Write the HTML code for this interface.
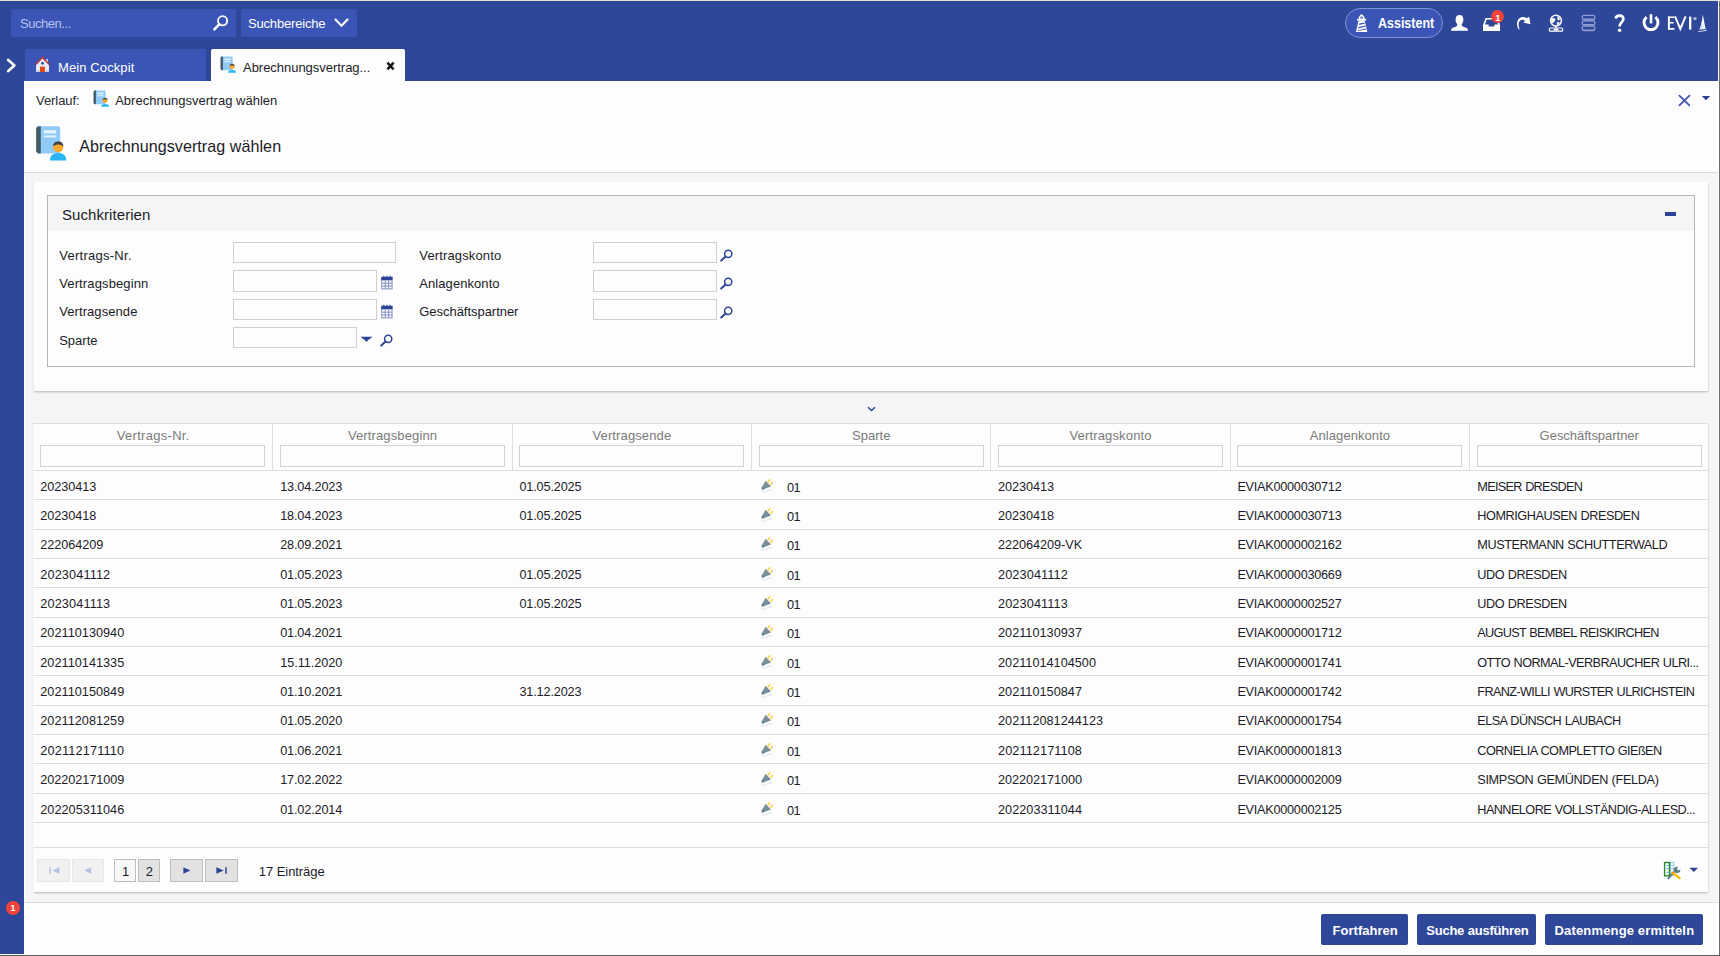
<!DOCTYPE html>
<html lang="de"><head><meta charset="utf-8"><title>Abrechnungsvertrag wählen</title>
<style>
html,body{margin:0;padding:0}
body{width:1720px;height:956px;overflow:hidden;position:relative;background:#fdfdfd;font-family:"Liberation Sans",sans-serif;font-size:13px;color:#1c1c28}
.a{position:absolute;box-sizing:border-box}
.t{position:absolute;white-space:pre;font-family:"Liberation Sans",sans-serif}
svg{position:absolute;overflow:visible}
.hdr{background:#2e4799}
.inp{position:absolute;box-sizing:border-box;border:1px solid #cfcfcf;background:#fdfdfd}
.hl{position:absolute;height:1px;background:#dedede}
.vl{position:absolute;width:1px;background:#dedede}
.btn{position:absolute;box-sizing:border-box;background:#2e4799;border-radius:2px}
.pg{position:absolute;box-sizing:border-box;border:1px solid #bdbdbd;background:#e2e2e2}
.pg.dis{border-color:#e6e6e6;background:#f1f1f1}

</style></head>
<body>
<div class="a" style="left:0;top:0;width:1720px;height:1px;background:#e4e0d8"></div>
<div class="a hdr" style="left:0;top:1px;width:1718px;height:80px"></div>
<div class="a hdr" style="left:0;top:81px;width:24px;height:873px"></div>
<div class="a" style="left:1719px;top:1px;width:1px;height:955px;background:#6e6e6e"></div>
<div class="a" style="left:0;top:955px;width:1720px;height:1px;background:#5a5a5a"></div>
<div class="a" style="left:11px;top:9px;width:225px;height:28px;background:#3a55b5;border-radius:2px"></div>
<span class="t " style="left:20px;top:15px;font-size:13px;line-height:17px;color:#b7c2ea;letter-spacing:-0.46px;">Suchen...</span>
<svg style="left:212px;top:14px" width="18" height="18" viewBox="0 0 18 18"><circle cx="10.6" cy="6.8" r="4.6" fill="none" stroke="#fff" stroke-width="1.8"/><path d="M7.4 10.2 L2.4 15.4" stroke="#fff" stroke-width="2.6" stroke-linecap="round"/></svg>
<div class="a" style="left:241px;top:9px;width:116px;height:28px;background:#3a55b5;border-radius:2px"></div>
<span class="t " style="left:248px;top:15px;font-size:13px;line-height:17px;color:#ffffff;letter-spacing:-0.18px;">Suchbereiche</span>
<svg style="left:334px;top:18px" width="15" height="10" viewBox="0 0 15 10"><path d="M1.5 1.6 L7.5 7.8 L13.5 1.6" fill="none" stroke="#fff" stroke-width="2.2" stroke-linecap="round" stroke-linejoin="round"/></svg>
<svg style="left:6px;top:58px" width="11" height="15" viewBox="0 0 11 15"><path d="M2 1.8 L8.4 7.5 L2 13.2" fill="none" stroke="#fff" stroke-width="2.5" stroke-linecap="round" stroke-linejoin="round"/></svg>
<div class="a" style="left:25px;top:49px;width:181px;height:32px;background:#3a55b5;border-radius:2px 2px 0 0"></div>
<svg style="left:35px;top:56px" width="15" height="17" viewBox="0 0 15 17"><path d="M1 8.2 L7.5 1.6 L14 8.2 V16 H1 Z" fill="#ebebf5"/><rect x="1" y="14.3" width="13" height="1.7" fill="#c9cbe9"/><rect x="11.1" y="3.1" width="1.8" height="3.2" fill="#e1e3f3"/><path d="M0.7 8.4 L7.5 1.4 L14.3 8.4" fill="none" stroke="#b23b3b" stroke-width="1.5"/><rect x="5" y="10.7" width="4.9" height="5.3" fill="#e04a10"/><circle cx="7.5" cy="7.3" r="1.4" fill="#1d5c9c"/></svg>
<span class="t " style="left:58px;top:59px;font-size:13px;line-height:17px;color:#ffffff;letter-spacing:0.12px;word-spacing:-0.12px;">Mein Cockpit</span>
<div class="a" style="left:211px;top:49px;width:194px;height:33px;background:#fdfdfd;border-radius:2px 2px 0 0"></div>
<svg style="left:220px;top:56px" width="16" height="18" viewBox="0 0 16 18"><g><path d="M2.2 0.6 H11.4 Q12.6 0.6 12.6 1.8 V13.2 Q12.6 14.2 11.4 14.2 H2.2 Q0.6 14.2 0.6 12.8 V2 Q0.6 0.6 2.2 0.6 Z" fill="#90caf9"/><path d="M2.2 0.6 H2.9 V14.2 H2.2 Q0.6 14.2 0.6 12.8 V2 Q0.6 0.6 2.2 0.6 Z" fill="#455a64"/><rect x="4.4" y="2.6" width="6.2" height="1.6" fill="#e3f2fd"/><rect x="4.4" y="5.2" width="6.2" height="1" fill="#e3f2fd"/><path d="M8.0 16.8 Q8.0 13.9 12.1 13.9 Q16.2 13.9 16.2 16.8 Z" fill="#29b6f6"/><circle cx="12.1" cy="10.6" r="2.4" fill="#ffa726"/><path d="M9.6 10.299999999999999 Q9.6 7.799999999999999 12.1 7.799999999999999 Q14.6 7.799999999999999 14.6 10.299999999999999 Q13.299999999999999 9.2 12.1 9.299999999999999 Q10.7 9.2 9.6 10.299999999999999 Z" fill="#424242"/></g></svg>
<span class="t " style="left:243px;top:59px;font-size:13px;line-height:17px;color:#1c1c28;letter-spacing:-0.03px;">Abrechnungsvertrag...</span>
<svg style="left:386px;top:61px" width="9" height="10" viewBox="0 0 9 10"><path d="M1.4 1.6 L7.6 8.4 M7.6 1.6 L1.4 8.4" stroke="#111" stroke-width="2.4"/></svg>
<div class="a" style="left:1345px;top:8px;width:98px;height:30px;background:#3a55b5;border:1px solid #7f93d6;border-radius:15px"></div>
<svg style="left:1355px;top:13px" width="13" height="20" viewBox="0 0 13 20"><path d="M4.4 3.5 Q6.6 -1.2 8.8 3.5 Z" fill="#fff"/><rect x="3.7" y="3.5" width="5.8" height="2.6" fill="#fff"/><rect x="5.2" y="4.1" width="2.8" height="1.5" fill="#5b72c4"/><rect x="2" y="5.9" width="9.2" height="1.7" fill="#fff"/><path d="M3.6 7.6 H9.6 L12.3 18.9 H0.9 Z" fill="#fff"/><g fill="#3a55b5"><path d="M4.3 10.6 L9.4 9.4 L9.7 10.7 L4 12 Z"/><path d="M3.5 14 L10.3 12.4 L10.6 13.8 L3.1 15.5 Z"/><path d="M2.8 17.2 L11 15.5 L11.2 16.6 L2.6 18.1 Z"/></g></svg>
<span class="t " style="left:1378px;top:14px;font-size:14.4px;line-height:19px;color:#ffffff;font-weight:700;transform:scaleX(0.8675);transform-origin:0 50%;">Assistent</span>
<svg style="left:1450px;top:14px" width="19" height="18" viewBox="0 0 19 18"><path d="M9.5 1 C12.2 1 13.4 3 13.4 5.6 C13.4 8 12.4 9.6 11.6 10.4 C11.6 12 13 12.6 15.4 13.6 C17.4 14.4 18 15.2 18 16.8 H1 C1 15.2 1.6 14.4 3.6 13.6 C6 12.6 7.4 12 7.4 10.4 C6.6 9.6 5.6 8 5.6 5.6 C5.6 3 6.8 1 9.5 1 Z" fill="#fff"/></svg>
<svg style="left:1482px;top:17px" width="19" height="15" viewBox="0 0 19 15"><path d="M3.6 1 H15.4 L18 8 V14 H1 V8 Z" fill="#fff"/><path d="M4.6 2.4 H14.4 L16 7.4 H12.4 V9.6 H6.6 V7.4 H3 Z" fill="#2e4799"/></svg>
<div class="a" style="left:1491px;top:10px;width:13.4px;height:13.4px;border-radius:50%;background:#f2433a"></div>
<span class="t " style="left:1495.3px;top:12px;font-size:9.5px;line-height:12px;color:#ffffff;font-weight:700;">1</span>
<svg style="left:1516px;top:15px" width="15" height="15" viewBox="0 0 15 15"><path d="M2.9 14.6 C0 10.6 0.2 4.4 4.8 2.4 C7.2 1.5 9.4 2.2 10.6 3.2 L13.2 1.8 L14.5 9.2 L7.2 7.5 L9.2 5.7 C7.6 4.5 5.8 4.4 4.6 5.2 C2 7 2.3 10.8 3.6 14.2 Z" fill="#fff"/></svg>
<svg style="left:1548px;top:14px" width="16" height="18" viewBox="0 0 16 18"><circle cx="8" cy="6.6" r="5.4" fill="none" stroke="#fff" stroke-width="1.5"/><path d="M3.4 4.6 Q6 3 7.6 5.4 Q6.4 8.4 4 9.6 Q2.8 7.2 3.4 4.6 Z M9.4 2 Q11.6 3.4 12.4 5.2 L9.8 6.8 Q8.8 4.4 9.4 2 Z M8.6 8.6 L11.8 8 Q11.4 10.6 9.2 11.4 Z" fill="#fff"/><path d="M8 12 V14" stroke="#fff" stroke-width="1.4"/><rect x="1.4" y="14" width="13.2" height="3.2" rx="1" fill="none" stroke="#fff" stroke-width="1.2"/><rect x="5.6" y="14.6" width="4.8" height="2" fill="#fff"/></svg>
<svg style="left:1581px;top:14px" width="15" height="18" viewBox="0 0 15 18"><g fill="none" stroke="#8f9fd3" stroke-width="1.3"><rect x="1.2" y="1.4" width="12.6" height="4.4" rx="2"/><rect x="1.2" y="6.8" width="12.6" height="4.4" rx="2"/><rect x="1.2" y="12.2" width="12.6" height="4.4" rx="2"/></g><path d="M2.4 5.2 H12.6 M2.4 10.6 H12.6 M2.4 16 H12.6" stroke="#8f9fd3" stroke-width="1.2"/></svg>
<svg style="left:1613px;top:14px" width="13" height="19" viewBox="0 0 13 19"><path d="M2.6 4.6 C3 2.4 4.6 1.6 6.6 1.6 C9 1.6 10.4 3 10.4 5 C10.4 8 6.6 8.4 6.6 12.6" fill="none" stroke="#fff" stroke-width="2.6"/><circle cx="6.6" cy="16.2" r="1.7" fill="#fff"/></svg>
<svg style="left:1641px;top:13px" width="20" height="20" viewBox="0 0 20 20"><path d="M5.6 4.2 A7 7 0 1 0 14.4 4.2" fill="none" stroke="#fff" stroke-width="2.9"/><path d="M10 1.2 V10.4" stroke="#fff" stroke-width="2.6"/></svg>
<svg style="left:1667px;top:15px" width="30" height="16" viewBox="0 0 30 16"><g fill="none" stroke="#fff"><path d="M1.9 1.6 V14.6" stroke-width="2"/><path d="M1 2.3 H7.2 M1 7.8 H6.6 M1 13.9 H7.4" stroke-width="1.6"/><path d="M8 1.4 L13.3 14 L18.6 1.4" stroke-width="2" stroke-linejoin="miter"/><path d="M23.2 1.6 V14.6" stroke-width="2.3"/></g><circle cx="28" cy="3.6" r="1.7" fill="#aab6e2"/></svg>
<svg style="left:1697px;top:14px" width="11" height="19" viewBox="0 0 11 19"><path d="M5.8 0.6 L8.6 15 L2.8 15.4 Q5.2 8.8 5.8 0.6 Z" fill="#fff"/><path d="M5.2 5 Q4.6 11.4 2.2 15.4 L5.4 15.2 Z" fill="#cdd4ee"/><path d="M0.6 17.4 Q5 16.8 9.8 15.8 L9.5 16.8 Q5 17.8 1.2 18 Z" fill="#fff"/></svg>
<span class="t " style="left:36px;top:92px;font-size:13px;line-height:17px;color:#2a2a33;letter-spacing:-0.06px;">Verlauf:</span>
<svg style="left:93px;top:90px" width="16" height="18" viewBox="0 0 16 18"><g><path d="M2.2 0.6 H11.4 Q12.6 0.6 12.6 1.8 V13.2 Q12.6 14.2 11.4 14.2 H2.2 Q0.6 14.2 0.6 12.8 V2 Q0.6 0.6 2.2 0.6 Z" fill="#90caf9"/><path d="M2.2 0.6 H2.9 V14.2 H2.2 Q0.6 14.2 0.6 12.8 V2 Q0.6 0.6 2.2 0.6 Z" fill="#455a64"/><rect x="4.4" y="2.6" width="6.2" height="1.6" fill="#e3f2fd"/><rect x="4.4" y="5.2" width="6.2" height="1" fill="#e3f2fd"/><path d="M8.0 16.8 Q8.0 13.9 12.1 13.9 Q16.2 13.9 16.2 16.8 Z" fill="#29b6f6"/><circle cx="12.1" cy="10.6" r="2.4" fill="#ffa726"/><path d="M9.6 10.299999999999999 Q9.6 7.799999999999999 12.1 7.799999999999999 Q14.6 7.799999999999999 14.6 10.299999999999999 Q13.299999999999999 9.2 12.1 9.299999999999999 Q10.7 9.2 9.6 10.299999999999999 Z" fill="#424242"/></g></svg>
<span class="t " style="left:115.2px;top:92px;font-size:13px;line-height:17px;color:#1c1c28;letter-spacing:0.01px;word-spacing:-0.01px;">Abrechnungsvertrag wählen</span>
<svg style="left:1678px;top:94px" width="13" height="13" viewBox="0 0 13 13"><path d="M1.4 1.6 L11.4 11.4 M11.4 1.6 L1.4 11.4" stroke="#3d50b6" stroke-width="1.7" stroke-linecap="round"/></svg>
<svg style="left:1701px;top:95px" width="10" height="6" viewBox="0 0 10 6"><path d="M0.8 1 H9.2 L5 5.2 Z" fill="#2b4396"/></svg>
<svg style="left:35px;top:125px" width="32" height="36" viewBox="0 0 16 18"><g><path d="M2.2 0.6 H11.4 Q12.6 0.6 12.6 1.8 V13.2 Q12.6 14.2 11.4 14.2 H2.2 Q0.6 14.2 0.6 12.8 V2 Q0.6 0.6 2.2 0.6 Z" fill="#90caf9"/><path d="M2.2 0.6 H2.9 V14.2 H2.2 Q0.6 14.2 0.6 12.8 V2 Q0.6 0.6 2.2 0.6 Z" fill="#455a64"/><rect x="4.4" y="2.6" width="6.2" height="1.6" fill="#e3f2fd"/><rect x="4.4" y="5.2" width="6.2" height="1" fill="#e3f2fd"/><path d="M7.4 17.8 Q7.4 14 11.6 14 Q15.7 14 15.7 17.8 Z" fill="#29b6f6"/><circle cx="11.6" cy="11.1" r="2.5" fill="#ffa726"/><path d="M9.0 10.799999999999999 Q9.0 8.2 11.6 8.2 Q14.2 8.2 14.2 10.799999999999999 Q12.799999999999999 9.7 11.6 9.799999999999999 Q10.2 9.7 9.0 10.799999999999999 Z" fill="#424242"/></g></svg>
<span class="t " style="left:79.3px;top:136px;font-size:16.1px;line-height:21px;color:#1c1c28;letter-spacing:0.06px;word-spacing:-0.06px;">Abrechnungsvertrag wählen</span>
<div class="hl" style="left:24px;top:172px;width:1694px;background:#dcdcdc"></div>
<div class="a" style="left:25px;top:173px;width:1693px;height:729px;background:#f5f5f5"></div>
<div class="a" style="left:33px;top:182px;width:1675px;height:209px;background:#fdfdfd;box-shadow:0 1.5px 2px -0.5px rgba(0,0,0,.26);border-left:1px solid #ececec"></div>
<div class="a" style="left:47px;top:195px;width:1648px;height:172px;border:1px solid #b6b6b6;background:#fdfdfd"></div>
<div class="a" style="left:48px;top:196px;width:1646px;height:35px;background:#f5f5f5"></div>
<span class="t " style="left:62px;top:205px;font-size:15px;line-height:20px;color:#1c1c28;letter-spacing:0.07px;">Suchkriterien</span>
<div class="a" style="left:1665px;top:211.5px;width:11px;height:4.5px;background:#2b4396"></div>
<span class="t " style="left:59.2px;top:247px;font-size:13px;line-height:17px;color:#1c1c28;letter-spacing:0.27px;">Vertrags-Nr.</span>
<span class="t " style="left:59.2px;top:275px;font-size:13px;line-height:17px;color:#1c1c28;letter-spacing:0.13px;">Vertragsbeginn</span>
<span class="t " style="left:59.2px;top:303px;font-size:13px;line-height:17px;color:#1c1c28;letter-spacing:0.08px;">Vertragsende</span>
<span class="t " style="left:59.2px;top:332px;font-size:13px;line-height:17px;color:#1c1c28;">Sparte</span>
<span class="t " style="left:419.3px;top:247px;font-size:13px;line-height:17px;color:#1c1c28;letter-spacing:0.14px;">Vertragskonto</span>
<span class="t " style="left:419.3px;top:275px;font-size:13px;line-height:17px;color:#1c1c28;letter-spacing:0.07px;">Anlagenkonto</span>
<span class="t " style="left:419.3px;top:303px;font-size:13px;line-height:17px;color:#1c1c28;letter-spacing:-0.04px;">Geschäftspartner</span>
<div class="inp" style="left:233px;top:242px;width:163px;height:21px"></div>
<div class="inp" style="left:233px;top:270px;width:144px;height:22px"></div>
<div class="inp" style="left:233px;top:299px;width:144px;height:21px"></div>
<div class="inp" style="left:233px;top:327px;width:124px;height:21px"></div>
<div class="inp" style="left:593px;top:242px;width:124px;height:21px"></div>
<div class="inp" style="left:593px;top:270px;width:124px;height:22px"></div>
<div class="inp" style="left:593px;top:299px;width:124px;height:21px"></div>
<svg style="left:380.6px;top:275.2px" width="12.4" height="15" viewBox="0 0 13 15"><rect x="0.8" y="2.2" width="10.8" height="12" fill="#fdfdfd" stroke="#7d8bc4" stroke-width="1"/><rect x="0.3" y="1.6" width="11.8" height="3.6" fill="#2b4396"/><path d="M3 0.4 V2.6 M6.2 0.4 V2.6 M9.4 0.4 V2.6" stroke="#2b4396" stroke-width="1.2"/><path d="M4.4 5.4 V14 M8 5.4 V14 M1 8.2 H11.4 M1 11.2 H11.4" stroke="#7d8bc4" stroke-width="1"/></svg>
<svg style="left:380.6px;top:303.8px" width="12.4" height="15" viewBox="0 0 13 15"><rect x="0.8" y="2.2" width="10.8" height="12" fill="#fdfdfd" stroke="#7d8bc4" stroke-width="1"/><rect x="0.3" y="1.6" width="11.8" height="3.6" fill="#2b4396"/><path d="M3 0.4 V2.6 M6.2 0.4 V2.6 M9.4 0.4 V2.6" stroke="#2b4396" stroke-width="1.2"/><path d="M4.4 5.4 V14 M8 5.4 V14 M1 8.2 H11.4 M1 11.2 H11.4" stroke="#7d8bc4" stroke-width="1"/></svg>
<svg style="left:360px;top:336px" width="13" height="7" viewBox="0 0 13 7"><path d="M0.4 0.8 H12.6 L8 4.2 L6.5 6 L5 4.2 Z" fill="#2b4396"/></svg>
<svg style="left:379.5px;top:333.5px" width="13" height="13" viewBox="0 0 13 13"><circle cx="8.2" cy="4.8" r="3.6" fill="none" stroke="#2b4396" stroke-width="1.5"/><path d="M5.6 7.6 L1.2 11.6" stroke="#2b4396" stroke-width="2" stroke-linecap="round"/></svg>
<svg style="left:720px;top:248.5px" width="13" height="13" viewBox="0 0 13 13"><circle cx="8.2" cy="4.8" r="3.6" fill="none" stroke="#2b4396" stroke-width="1.5"/><path d="M5.6 7.6 L1.2 11.6" stroke="#2b4396" stroke-width="2" stroke-linecap="round"/></svg>
<svg style="left:720px;top:277px" width="13" height="13" viewBox="0 0 13 13"><circle cx="8.2" cy="4.8" r="3.6" fill="none" stroke="#2b4396" stroke-width="1.5"/><path d="M5.6 7.6 L1.2 11.6" stroke="#2b4396" stroke-width="2" stroke-linecap="round"/></svg>
<svg style="left:720px;top:305.5px" width="13" height="13" viewBox="0 0 13 13"><circle cx="8.2" cy="4.8" r="3.6" fill="none" stroke="#2b4396" stroke-width="1.5"/><path d="M5.6 7.6 L1.2 11.6" stroke="#2b4396" stroke-width="2" stroke-linecap="round"/></svg>
<svg style="left:866.5px;top:405.5px" width="9" height="6" viewBox="0 0 9 6"><path d="M1 1.2 L4.5 4.6 L8 1.2" fill="none" stroke="#2b4396" stroke-width="1.4"/></svg>
<div class="a" style="left:33px;top:423px;width:1675px;height:468.6px;background:#fdfdfd;box-shadow:0 1.5px 2px -0.5px rgba(0,0,0,.26);border-left:1px solid #f8f8f8"></div>
<div class="hl" style="left:33px;top:423px;width:1675px"></div>
<span class="t " style="left:116.8px;top:427px;font-size:13px;line-height:17px;color:#7b7b7b;letter-spacing:0.29px;">Vertrags-Nr.</span>
<div class="inp" style="left:40px;top:445px;width:224.6px;height:22px;border-color:#d2d2d2"></div>
<span class="t " style="left:347.9px;top:427px;font-size:13px;line-height:17px;color:#7b7b7b;letter-spacing:0.13px;">Vertragsbeginn</span>
<div class="inp" style="left:280px;top:445px;width:224.6px;height:22px;border-color:#d2d2d2"></div>
<div class="vl" style="left:272px;top:424px;height:46px"></div>
<span class="t " style="left:592.5px;top:427px;font-size:13px;line-height:17px;color:#7b7b7b;letter-spacing:0.12px;">Vertragsende</span>
<div class="inp" style="left:519px;top:445px;width:224.6px;height:22px;border-color:#d2d2d2"></div>
<div class="vl" style="left:512px;top:424px;height:46px"></div>
<span class="t " style="left:852.1px;top:427px;font-size:13px;line-height:17px;color:#7b7b7b;">Sparte</span>
<div class="inp" style="left:759px;top:445px;width:224.6px;height:22px;border-color:#d2d2d2"></div>
<div class="vl" style="left:751px;top:424px;height:46px"></div>
<span class="t " style="left:1069.4px;top:427px;font-size:13px;line-height:17px;color:#7b7b7b;letter-spacing:0.16px;">Vertragskonto</span>
<div class="inp" style="left:998px;top:445px;width:224.6px;height:22px;border-color:#d2d2d2"></div>
<div class="vl" style="left:990px;top:424px;height:46px"></div>
<span class="t " style="left:1309.8px;top:427px;font-size:13px;line-height:17px;color:#7b7b7b;letter-spacing:0.07px;">Anlagenkonto</span>
<div class="inp" style="left:1237.2px;top:445px;width:224.6px;height:22px;border-color:#d2d2d2"></div>
<div class="vl" style="left:1230px;top:424px;height:46px"></div>
<span class="t " style="left:1539.6px;top:427px;font-size:13px;line-height:17px;color:#7b7b7b;letter-spacing:-0.03px;">Geschäftspartner</span>
<div class="inp" style="left:1477px;top:445px;width:224.6px;height:22px;border-color:#d2d2d2"></div>
<div class="vl" style="left:1469px;top:424px;height:46px"></div>
<div class="a" style="left:33px;top:469.6px;width:1675px;height:1.6px;background:#dedede"></div>
<div class="hl" style="left:33px;top:499px;width:1675px"></div>
<span class="t " style="left:40.3px;top:479px;font-size:12.7px;line-height:17px;color:#1c1c28;letter-spacing:-0.06px;">20230413</span>
<span class="t " style="left:280.2px;top:479px;font-size:12.7px;line-height:17px;color:#1c1c28;letter-spacing:-0.15px;">13.04.2023</span>
<span class="t " style="left:519.4px;top:479px;font-size:12.7px;line-height:17px;color:#1c1c28;letter-spacing:-0.15px;">01.05.2025</span>
<svg style="left:759.8px;top:478.6px" width="13" height="15" viewBox="0 0 13 15"><path d="M1.2 11.6 Q4 14.4 7.4 11.8 Q9.6 10.2 12.4 11" fill="none" stroke="#e4e9ec" stroke-width="1.3"/><path d="M5.6 1.8 L11 7.4 L3.6 10.2 Q1.4 10.6 1.6 8.6 Z" fill="#78909c"/><path d="M8 2.8 L9.8 0.8 M10.6 5.4 L12.4 3.4" stroke="#ffd54f" stroke-width="1.7" stroke-linecap="round"/><circle cx="2.9" cy="9.4" r="1.2" fill="#607d8b"/></svg>
<span class="t " style="left:787px;top:480px;font-size:12.7px;line-height:17px;color:#1c1c28;letter-spacing:-0.46px;">01</span>
<span class="t " style="left:998px;top:479px;font-size:12.7px;line-height:17px;color:#1c1c28;letter-spacing:-0.06px;">20230413</span>
<span class="t " style="left:1237.4px;top:479px;font-size:12.7px;line-height:17px;color:#1c1c28;letter-spacing:-0.26px;">EVIAK0000030712</span>
<span class="t " style="left:1477.3px;top:479px;font-size:12.7px;line-height:17px;color:#1c1c28;letter-spacing:-0.72px;word-spacing:0.72px;">MEISER DRESDEN</span>
<div class="hl" style="left:33px;top:529px;width:1675px"></div>
<span class="t " style="left:40.3px;top:508px;font-size:12.7px;line-height:17px;color:#1c1c28;letter-spacing:-0.06px;">20230418</span>
<span class="t " style="left:280.2px;top:508px;font-size:12.7px;line-height:17px;color:#1c1c28;letter-spacing:-0.15px;">18.04.2023</span>
<span class="t " style="left:519.4px;top:508px;font-size:12.7px;line-height:17px;color:#1c1c28;letter-spacing:-0.15px;">01.05.2025</span>
<svg style="left:759.8px;top:507.6px" width="13" height="15" viewBox="0 0 13 15"><path d="M1.2 11.6 Q4 14.4 7.4 11.8 Q9.6 10.2 12.4 11" fill="none" stroke="#e4e9ec" stroke-width="1.3"/><path d="M5.6 1.8 L11 7.4 L3.6 10.2 Q1.4 10.6 1.6 8.6 Z" fill="#78909c"/><path d="M8 2.8 L9.8 0.8 M10.6 5.4 L12.4 3.4" stroke="#ffd54f" stroke-width="1.7" stroke-linecap="round"/><circle cx="2.9" cy="9.4" r="1.2" fill="#607d8b"/></svg>
<span class="t " style="left:787px;top:509px;font-size:12.7px;line-height:17px;color:#1c1c28;letter-spacing:-0.46px;">01</span>
<span class="t " style="left:998px;top:508px;font-size:12.7px;line-height:17px;color:#1c1c28;letter-spacing:-0.06px;">20230418</span>
<span class="t " style="left:1237.4px;top:508px;font-size:12.7px;line-height:17px;color:#1c1c28;letter-spacing:-0.26px;">EVIAK0000030713</span>
<span class="t " style="left:1477.3px;top:508px;font-size:12.7px;line-height:17px;color:#1c1c28;letter-spacing:-0.45px;word-spacing:0.45px;">HOMRIGHAUSEN DRESDEN</span>
<div class="hl" style="left:33px;top:558px;width:1675px"></div>
<span class="t " style="left:40.3px;top:537px;font-size:12.7px;line-height:17px;color:#1c1c28;letter-spacing:-0.06px;">222064209</span>
<span class="t " style="left:280.2px;top:537px;font-size:12.7px;line-height:17px;color:#1c1c28;letter-spacing:-0.15px;">28.09.2021</span>
<svg style="left:759.8px;top:536.6px" width="13" height="15" viewBox="0 0 13 15"><path d="M1.2 11.6 Q4 14.4 7.4 11.8 Q9.6 10.2 12.4 11" fill="none" stroke="#e4e9ec" stroke-width="1.3"/><path d="M5.6 1.8 L11 7.4 L3.6 10.2 Q1.4 10.6 1.6 8.6 Z" fill="#78909c"/><path d="M8 2.8 L9.8 0.8 M10.6 5.4 L12.4 3.4" stroke="#ffd54f" stroke-width="1.7" stroke-linecap="round"/><circle cx="2.9" cy="9.4" r="1.2" fill="#607d8b"/></svg>
<span class="t " style="left:787px;top:538px;font-size:12.7px;line-height:17px;color:#1c1c28;letter-spacing:-0.46px;">01</span>
<span class="t " style="left:998px;top:537px;font-size:12.7px;line-height:17px;color:#1c1c28;letter-spacing:-0.05px;">222064209-VK</span>
<span class="t " style="left:1237.4px;top:537px;font-size:12.7px;line-height:17px;color:#1c1c28;letter-spacing:-0.26px;">EVIAK0000002162</span>
<span class="t " style="left:1477.3px;top:537px;font-size:12.7px;line-height:17px;color:#1c1c28;letter-spacing:-0.44px;word-spacing:0.44px;">MUSTERMANN SCHUTTERWALD</span>
<div class="hl" style="left:33px;top:587px;width:1675px"></div>
<span class="t " style="left:40.3px;top:567px;font-size:12.7px;line-height:17px;color:#1c1c28;letter-spacing:0.13px;">2023041112</span>
<span class="t " style="left:280.2px;top:567px;font-size:12.7px;line-height:17px;color:#1c1c28;letter-spacing:-0.15px;">01.05.2023</span>
<span class="t " style="left:519.4px;top:567px;font-size:12.7px;line-height:17px;color:#1c1c28;letter-spacing:-0.15px;">01.05.2025</span>
<svg style="left:759.8px;top:566.6px" width="13" height="15" viewBox="0 0 13 15"><path d="M1.2 11.6 Q4 14.4 7.4 11.8 Q9.6 10.2 12.4 11" fill="none" stroke="#e4e9ec" stroke-width="1.3"/><path d="M5.6 1.8 L11 7.4 L3.6 10.2 Q1.4 10.6 1.6 8.6 Z" fill="#78909c"/><path d="M8 2.8 L9.8 0.8 M10.6 5.4 L12.4 3.4" stroke="#ffd54f" stroke-width="1.7" stroke-linecap="round"/><circle cx="2.9" cy="9.4" r="1.2" fill="#607d8b"/></svg>
<span class="t " style="left:787px;top:568px;font-size:12.7px;line-height:17px;color:#1c1c28;letter-spacing:-0.46px;">01</span>
<span class="t " style="left:998px;top:567px;font-size:12.7px;line-height:17px;color:#1c1c28;letter-spacing:0.13px;">2023041112</span>
<span class="t " style="left:1237.4px;top:567px;font-size:12.7px;line-height:17px;color:#1c1c28;letter-spacing:-0.26px;">EVIAK0000030669</span>
<span class="t " style="left:1477.3px;top:567px;font-size:12.7px;line-height:17px;color:#1c1c28;letter-spacing:-0.43px;word-spacing:0.43px;">UDO DRESDEN</span>
<div class="hl" style="left:33px;top:617px;width:1675px"></div>
<span class="t " style="left:40.3px;top:596px;font-size:12.7px;line-height:17px;color:#1c1c28;letter-spacing:0.13px;">2023041113</span>
<span class="t " style="left:280.2px;top:596px;font-size:12.7px;line-height:17px;color:#1c1c28;letter-spacing:-0.15px;">01.05.2023</span>
<span class="t " style="left:519.4px;top:596px;font-size:12.7px;line-height:17px;color:#1c1c28;letter-spacing:-0.15px;">01.05.2025</span>
<svg style="left:759.8px;top:595.6px" width="13" height="15" viewBox="0 0 13 15"><path d="M1.2 11.6 Q4 14.4 7.4 11.8 Q9.6 10.2 12.4 11" fill="none" stroke="#e4e9ec" stroke-width="1.3"/><path d="M5.6 1.8 L11 7.4 L3.6 10.2 Q1.4 10.6 1.6 8.6 Z" fill="#78909c"/><path d="M8 2.8 L9.8 0.8 M10.6 5.4 L12.4 3.4" stroke="#ffd54f" stroke-width="1.7" stroke-linecap="round"/><circle cx="2.9" cy="9.4" r="1.2" fill="#607d8b"/></svg>
<span class="t " style="left:787px;top:597px;font-size:12.7px;line-height:17px;color:#1c1c28;letter-spacing:-0.46px;">01</span>
<span class="t " style="left:998px;top:596px;font-size:12.7px;line-height:17px;color:#1c1c28;letter-spacing:0.13px;">2023041113</span>
<span class="t " style="left:1237.4px;top:596px;font-size:12.7px;line-height:17px;color:#1c1c28;letter-spacing:-0.26px;">EVIAK0000002527</span>
<span class="t " style="left:1477.3px;top:596px;font-size:12.7px;line-height:17px;color:#1c1c28;letter-spacing:-0.43px;word-spacing:0.43px;">UDO DRESDEN</span>
<div class="hl" style="left:33px;top:646px;width:1675px"></div>
<span class="t " style="left:40.3px;top:625px;font-size:12.7px;line-height:17px;color:#1c1c28;letter-spacing:0.02px;">202110130940</span>
<span class="t " style="left:280.2px;top:625px;font-size:12.7px;line-height:17px;color:#1c1c28;letter-spacing:-0.15px;">01.04.2021</span>
<svg style="left:759.8px;top:624.6px" width="13" height="15" viewBox="0 0 13 15"><path d="M1.2 11.6 Q4 14.4 7.4 11.8 Q9.6 10.2 12.4 11" fill="none" stroke="#e4e9ec" stroke-width="1.3"/><path d="M5.6 1.8 L11 7.4 L3.6 10.2 Q1.4 10.6 1.6 8.6 Z" fill="#78909c"/><path d="M8 2.8 L9.8 0.8 M10.6 5.4 L12.4 3.4" stroke="#ffd54f" stroke-width="1.7" stroke-linecap="round"/><circle cx="2.9" cy="9.4" r="1.2" fill="#607d8b"/></svg>
<span class="t " style="left:787px;top:626px;font-size:12.7px;line-height:17px;color:#1c1c28;letter-spacing:-0.46px;">01</span>
<span class="t " style="left:998px;top:625px;font-size:12.7px;line-height:17px;color:#1c1c28;letter-spacing:0.02px;">202110130937</span>
<span class="t " style="left:1237.4px;top:625px;font-size:12.7px;line-height:17px;color:#1c1c28;letter-spacing:-0.26px;">EVIAK0000001712</span>
<span class="t " style="left:1477.3px;top:625px;font-size:12.7px;line-height:17px;color:#1c1c28;letter-spacing:-0.7px;word-spacing:0.7px;">AUGUST BEMBEL REISKIRCHEN</span>
<div class="hl" style="left:33px;top:675px;width:1675px"></div>
<span class="t " style="left:40.3px;top:655px;font-size:12.7px;line-height:17px;color:#1c1c28;letter-spacing:0.02px;">202110141335</span>
<span class="t " style="left:280.2px;top:655px;font-size:12.7px;line-height:17px;color:#1c1c28;letter-spacing:-0.06px;">15.11.2020</span>
<svg style="left:759.8px;top:654.6px" width="13" height="15" viewBox="0 0 13 15"><path d="M1.2 11.6 Q4 14.4 7.4 11.8 Q9.6 10.2 12.4 11" fill="none" stroke="#e4e9ec" stroke-width="1.3"/><path d="M5.6 1.8 L11 7.4 L3.6 10.2 Q1.4 10.6 1.6 8.6 Z" fill="#78909c"/><path d="M8 2.8 L9.8 0.8 M10.6 5.4 L12.4 3.4" stroke="#ffd54f" stroke-width="1.7" stroke-linecap="round"/><circle cx="2.9" cy="9.4" r="1.2" fill="#607d8b"/></svg>
<span class="t " style="left:787px;top:656px;font-size:12.7px;line-height:17px;color:#1c1c28;letter-spacing:-0.46px;">01</span>
<span class="t " style="left:998px;top:655px;font-size:12.7px;line-height:17px;color:#1c1c28;letter-spacing:0.01px;">20211014104500</span>
<span class="t " style="left:1237.4px;top:655px;font-size:12.7px;line-height:17px;color:#1c1c28;letter-spacing:-0.26px;">EVIAK0000001741</span>
<span class="t " style="left:1477.3px;top:655px;font-size:12.7px;line-height:17px;color:#1c1c28;letter-spacing:-0.56px;word-spacing:0.56px;">OTTO NORMAL-VERBRAUCHER ULRI...</span>
<div class="hl" style="left:33px;top:705px;width:1675px"></div>
<span class="t " style="left:40.3px;top:684px;font-size:12.7px;line-height:17px;color:#1c1c28;letter-spacing:0.02px;">202110150849</span>
<span class="t " style="left:280.2px;top:684px;font-size:12.7px;line-height:17px;color:#1c1c28;letter-spacing:-0.15px;">01.10.2021</span>
<span class="t " style="left:519.4px;top:684px;font-size:12.7px;line-height:17px;color:#1c1c28;letter-spacing:-0.15px;">31.12.2023</span>
<svg style="left:759.8px;top:683.6px" width="13" height="15" viewBox="0 0 13 15"><path d="M1.2 11.6 Q4 14.4 7.4 11.8 Q9.6 10.2 12.4 11" fill="none" stroke="#e4e9ec" stroke-width="1.3"/><path d="M5.6 1.8 L11 7.4 L3.6 10.2 Q1.4 10.6 1.6 8.6 Z" fill="#78909c"/><path d="M8 2.8 L9.8 0.8 M10.6 5.4 L12.4 3.4" stroke="#ffd54f" stroke-width="1.7" stroke-linecap="round"/><circle cx="2.9" cy="9.4" r="1.2" fill="#607d8b"/></svg>
<span class="t " style="left:787px;top:685px;font-size:12.7px;line-height:17px;color:#1c1c28;letter-spacing:-0.46px;">01</span>
<span class="t " style="left:998px;top:684px;font-size:12.7px;line-height:17px;color:#1c1c28;letter-spacing:0.02px;">202110150847</span>
<span class="t " style="left:1237.4px;top:684px;font-size:12.7px;line-height:17px;color:#1c1c28;letter-spacing:-0.26px;">EVIAK0000001742</span>
<span class="t " style="left:1477.3px;top:684px;font-size:12.7px;line-height:17px;color:#1c1c28;letter-spacing:-0.64px;word-spacing:0.64px;">FRANZ-WILLI WURSTER ULRICHSTEIN</span>
<div class="hl" style="left:33px;top:734px;width:1675px"></div>
<span class="t " style="left:40.3px;top:713px;font-size:12.7px;line-height:17px;color:#1c1c28;letter-spacing:0.02px;">202112081259</span>
<span class="t " style="left:280.2px;top:713px;font-size:12.7px;line-height:17px;color:#1c1c28;letter-spacing:-0.15px;">01.05.2020</span>
<svg style="left:759.8px;top:712.6px" width="13" height="15" viewBox="0 0 13 15"><path d="M1.2 11.6 Q4 14.4 7.4 11.8 Q9.6 10.2 12.4 11" fill="none" stroke="#e4e9ec" stroke-width="1.3"/><path d="M5.6 1.8 L11 7.4 L3.6 10.2 Q1.4 10.6 1.6 8.6 Z" fill="#78909c"/><path d="M8 2.8 L9.8 0.8 M10.6 5.4 L12.4 3.4" stroke="#ffd54f" stroke-width="1.7" stroke-linecap="round"/><circle cx="2.9" cy="9.4" r="1.2" fill="#607d8b"/></svg>
<span class="t " style="left:787px;top:714px;font-size:12.7px;line-height:17px;color:#1c1c28;letter-spacing:-0.46px;">01</span>
<span class="t " style="left:998px;top:713px;font-size:12.7px;line-height:17px;color:#1c1c28;letter-spacing:0.01px;">202112081244123</span>
<span class="t " style="left:1237.4px;top:713px;font-size:12.7px;line-height:17px;color:#1c1c28;letter-spacing:-0.26px;">EVIAK0000001754</span>
<span class="t " style="left:1477.3px;top:713px;font-size:12.7px;line-height:17px;color:#1c1c28;letter-spacing:-0.57px;word-spacing:0.57px;">ELSA DÜNSCH LAUBACH</span>
<div class="hl" style="left:33px;top:763px;width:1675px"></div>
<span class="t " style="left:40.3px;top:743px;font-size:12.7px;line-height:17px;color:#1c1c28;letter-spacing:0.18px;">202112171110</span>
<span class="t " style="left:280.2px;top:743px;font-size:12.7px;line-height:17px;color:#1c1c28;letter-spacing:-0.15px;">01.06.2021</span>
<svg style="left:759.8px;top:742.6px" width="13" height="15" viewBox="0 0 13 15"><path d="M1.2 11.6 Q4 14.4 7.4 11.8 Q9.6 10.2 12.4 11" fill="none" stroke="#e4e9ec" stroke-width="1.3"/><path d="M5.6 1.8 L11 7.4 L3.6 10.2 Q1.4 10.6 1.6 8.6 Z" fill="#78909c"/><path d="M8 2.8 L9.8 0.8 M10.6 5.4 L12.4 3.4" stroke="#ffd54f" stroke-width="1.7" stroke-linecap="round"/><circle cx="2.9" cy="9.4" r="1.2" fill="#607d8b"/></svg>
<span class="t " style="left:787px;top:744px;font-size:12.7px;line-height:17px;color:#1c1c28;letter-spacing:-0.46px;">01</span>
<span class="t " style="left:998px;top:743px;font-size:12.7px;line-height:17px;color:#1c1c28;letter-spacing:0.1px;">202112171108</span>
<span class="t " style="left:1237.4px;top:743px;font-size:12.7px;line-height:17px;color:#1c1c28;letter-spacing:-0.26px;">EVIAK0000001813</span>
<span class="t " style="left:1477.3px;top:743px;font-size:12.7px;line-height:17px;color:#1c1c28;letter-spacing:-0.56px;word-spacing:0.56px;">CORNELIA COMPLETTO GIEßEN</span>
<div class="hl" style="left:33px;top:793px;width:1675px"></div>
<span class="t " style="left:40.3px;top:772px;font-size:12.7px;line-height:17px;color:#1c1c28;letter-spacing:-0.06px;">202202171009</span>
<span class="t " style="left:280.2px;top:772px;font-size:12.7px;line-height:17px;color:#1c1c28;letter-spacing:-0.15px;">17.02.2022</span>
<svg style="left:759.8px;top:771.6px" width="13" height="15" viewBox="0 0 13 15"><path d="M1.2 11.6 Q4 14.4 7.4 11.8 Q9.6 10.2 12.4 11" fill="none" stroke="#e4e9ec" stroke-width="1.3"/><path d="M5.6 1.8 L11 7.4 L3.6 10.2 Q1.4 10.6 1.6 8.6 Z" fill="#78909c"/><path d="M8 2.8 L9.8 0.8 M10.6 5.4 L12.4 3.4" stroke="#ffd54f" stroke-width="1.7" stroke-linecap="round"/><circle cx="2.9" cy="9.4" r="1.2" fill="#607d8b"/></svg>
<span class="t " style="left:787px;top:773px;font-size:12.7px;line-height:17px;color:#1c1c28;letter-spacing:-0.46px;">01</span>
<span class="t " style="left:998px;top:772px;font-size:12.7px;line-height:17px;color:#1c1c28;letter-spacing:-0.06px;">202202171000</span>
<span class="t " style="left:1237.4px;top:772px;font-size:12.7px;line-height:17px;color:#1c1c28;letter-spacing:-0.26px;">EVIAK0000002009</span>
<span class="t " style="left:1477.3px;top:772px;font-size:12.7px;line-height:17px;color:#1c1c28;letter-spacing:-0.35px;word-spacing:0.35px;">SIMPSON GEMÜNDEN (FELDA)</span>
<div class="hl" style="left:33px;top:822px;width:1675px"></div>
<span class="t " style="left:40.3px;top:802px;font-size:12.7px;line-height:17px;color:#1c1c28;letter-spacing:0.02px;">202205311046</span>
<span class="t " style="left:280.2px;top:802px;font-size:12.7px;line-height:17px;color:#1c1c28;letter-spacing:-0.15px;">01.02.2014</span>
<svg style="left:759.8px;top:801.6px" width="13" height="15" viewBox="0 0 13 15"><path d="M1.2 11.6 Q4 14.4 7.4 11.8 Q9.6 10.2 12.4 11" fill="none" stroke="#e4e9ec" stroke-width="1.3"/><path d="M5.6 1.8 L11 7.4 L3.6 10.2 Q1.4 10.6 1.6 8.6 Z" fill="#78909c"/><path d="M8 2.8 L9.8 0.8 M10.6 5.4 L12.4 3.4" stroke="#ffd54f" stroke-width="1.7" stroke-linecap="round"/><circle cx="2.9" cy="9.4" r="1.2" fill="#607d8b"/></svg>
<span class="t " style="left:787px;top:803px;font-size:12.7px;line-height:17px;color:#1c1c28;letter-spacing:-0.46px;">01</span>
<span class="t " style="left:998px;top:802px;font-size:12.7px;line-height:17px;color:#1c1c28;letter-spacing:0.02px;">202203311044</span>
<span class="t " style="left:1237.4px;top:802px;font-size:12.7px;line-height:17px;color:#1c1c28;letter-spacing:-0.26px;">EVIAK0000002125</span>
<span class="t " style="left:1477.3px;top:802px;font-size:12.7px;line-height:17px;color:#1c1c28;letter-spacing:-0.57px;word-spacing:0.57px;">HANNELORE VOLLSTÄNDIG-ALLESD...</span>
<div class="hl" style="left:33px;top:847px;width:1675px"></div>
<div class="pg dis" style="left:37px;top:859px;width:32.6px;height:23px"></div>
<svg style="left:48.6px;top:867.2px" width="11" height="7" viewBox="0 0 11 7"><path d="M1 0.2 V6.8" stroke="#b4bfe4" stroke-width="1.5"/><path d="M10.4 0.2 V6.8 L3.4 3.5 Z" fill="#b4bfe4"/></svg>
<div class="pg dis" style="left:72px;top:859px;width:32px;height:23px"></div>
<svg style="left:84.4px;top:867.2px" width="8" height="7" viewBox="0 0 8 7"><path d="M7.2 0.2 V6.8 L0.4 3.5 Z" fill="#b4bfe4"/></svg>
<div class="pg" style="left:114px;top:859px;width:22px;height:23px;background:#f8f8f8"></div>
<span class="t " style="left:122px;top:863px;font-size:13px;line-height:17px;color:#1c1c28;">1</span>
<div class="pg" style="left:138px;top:859px;width:22px;height:23px"></div>
<span class="t " style="left:145.8px;top:863px;font-size:13px;line-height:17px;color:#1c1c28;">2</span>
<div class="pg" style="left:170px;top:859px;width:33px;height:23px"></div>
<svg style="left:182.6px;top:867.2px" width="8" height="7" viewBox="0 0 8 7"><path d="M0.4 0.2 V6.8 L7.4 3.5 Z" fill="#2b4396"/></svg>
<div class="pg" style="left:205px;top:859px;width:33px;height:23px"></div>
<svg style="left:216.4px;top:867.2px" width="11" height="7" viewBox="0 0 11 7"><path d="M10 0.2 V6.8" stroke="#2b4396" stroke-width="1.5"/><path d="M0.4 0.2 V6.8 L7.6 3.5 Z" fill="#2b4396"/></svg>
<span class="t " style="left:258.8px;top:863px;font-size:13px;line-height:17px;color:#1c1c28;letter-spacing:-0.07px;word-spacing:0.07px;">17 Einträge</span>
<svg style="left:1663px;top:861px" width="18" height="19" viewBox="0 0 18 19"><rect x="6.9" y="1.5" width="3.9" height="13" fill="#fdfdfd" stroke="#90caf9" stroke-width="1.1"/><rect x="1.6" y="1.5" width="5.2" height="13.3" fill="#fdfdfd" stroke="#2e8b2e" stroke-width="1.4"/><path d="M2.4 4.5 H10.6 M2.4 7.5 H10.6 M2.4 11.4 H10.6" stroke="#90caf9" stroke-width="1"/><path d="M6.3 1 V15.2" stroke="#2e8b2e" stroke-width="1.2"/><path d="M5.4 17.4 L10.8 11.4" stroke="#607d8b" stroke-width="1.9" stroke-linecap="round"/><path d="M10.6 9.8 Q10.2 6.6 13 6 L15.2 5.8 L13.9 7.9 L15.3 9.6 L17.3 8.5 Q17.6 11.8 14.6 12 Q11.8 12.4 10.6 9.8 Z" fill="#607d8b"/><path d="M10.2 12.2 L16.4 17" stroke="#ffc107" stroke-width="2.7" stroke-linecap="round"/><circle cx="9.9" cy="11.8" r="1.4" fill="#ff9800"/></svg>
<svg style="left:1689.2px;top:867.2px" width="10" height="6" viewBox="0 0 10 6"><path d="M0.5 0.7 H9.1 L4.8 5 Z" fill="#2b4396"/></svg>
<div class="hl" style="left:24px;top:902px;width:1694px;background:#dcdcdc"></div>
<div class="a" style="left:24px;top:903px;width:1694px;height:51px;background:#fdfdfd"></div>
<div class="btn" style="left:1321px;top:914px;width:87px;height:31px"></div>
<span class="t " style="left:1332.5px;top:922px;font-size:13px;line-height:17px;color:#ffffff;font-weight:700;letter-spacing:0.03px;">Fortfahren</span>
<div class="btn" style="left:1417px;top:914px;width:119px;height:31px"></div>
<span class="t " style="left:1426.3px;top:922px;font-size:13px;line-height:17px;color:#ffffff;font-weight:700;letter-spacing:-0.24px;word-spacing:0.24px;">Suche ausführen</span>
<div class="btn" style="left:1545px;top:914px;width:158px;height:31px"></div>
<span class="t " style="left:1554.5px;top:922px;font-size:13px;line-height:17px;color:#ffffff;font-weight:700;letter-spacing:0.17px;word-spacing:-0.17px;">Datenmenge ermitteln</span>
<div class="a" style="left:6.2px;top:901.2px;width:13.6px;height:13.6px;border-radius:50%;background:#f2433a"></div>
<span class="t " style="left:10.6px;top:902px;font-size:9px;line-height:12px;color:#ffffff;font-weight:700;">1</span>
</body></html>
